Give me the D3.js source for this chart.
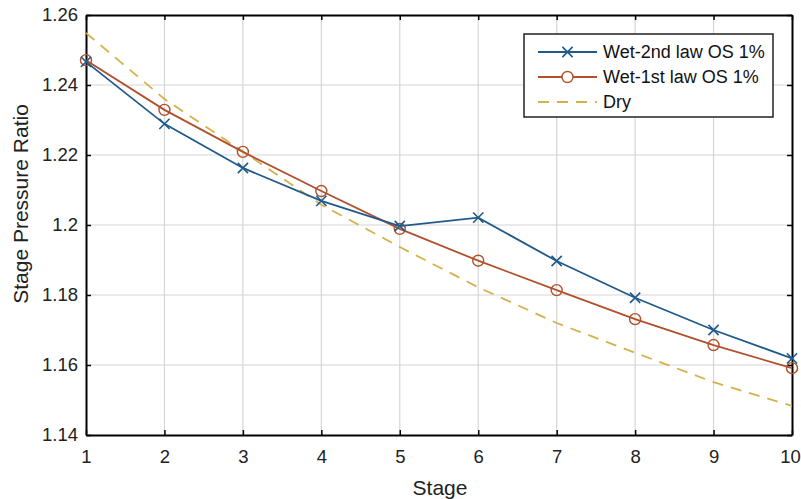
<!DOCTYPE html>
<html>
<head>
<meta charset="utf-8">
<script src="https://cdn.jsdelivr.net/npm/d3@7"></script>
<style>
  body { margin: 0; background: #fff; }
  svg { font-family: "Liberation Sans", Arial, sans-serif; }
</style>
</head>
<body>
<svg id="chart" width="801" height="499"></svg>
<script>
const stages = [1, 2, 3, 4, 5, 6, 7, 8, 9, 10];
const wet2nd = [1.2466, 1.2289, 1.2163, 1.2069, 1.1997, 1.2021, 1.1897, 1.1792, 1.1700, 1.1619];
const wet1st = [1.2471, 1.2329, 1.2209, 1.2097, 1.1989, 1.1898, 1.1814, 1.1731, 1.1657, 1.1591];
const dry = [1.2549, 1.2360, 1.2210, 1.2058, 1.1937, 1.1822, 1.1720, 1.1635, 1.1551, 1.1483];
const yTicks = [1.14, 1.16, 1.18, 1.2, 1.22, 1.24, 1.26];
const legendLabels = ["Wet-2nd law OS 1%", "Wet-1st law OS 1%", "Dry"];

let margin = {top: 15, right: 9, bottom: 64, left: 86};
let width = 801 - margin.left - margin.right;
let height = 499 - margin.top - margin.bottom;

let svg = d3.select("#chart");
let chart = svg.append("g")
  .attr("transform", "translate(" + margin.left + "," + margin.top + ")");

let x = d3.scaleLinear().domain([1, 10]).range([0, width]);
let y = d3.scaleLinear().domain([1.14, 1.26]).range([height, 0]);

// grid
chart.append("g").selectAll("line").data(stages.slice(1, -1)).enter().append("line")
  .attr("x1", d => x(d)).attr("x2", d => x(d))
  .attr("y1", 0).attr("y2", height)
  .attr("stroke", "#d6d6d6").attr("stroke-width", 1.2);
chart.append("g").selectAll("line").data(yTicks.slice(1, -1)).enter().append("line")
  .attr("x1", 0).attr("x2", width)
  .attr("y1", d => y(d)).attr("y2", d => y(d))
  .attr("stroke", "#d6d6d6").attr("stroke-width", 1.2);

// axes
let yLabel = d => (Math.round(d * 100) / 100).toString();

let xAxis = d3.axisBottom(x).tickValues(stages).tickSizeInner(-5).tickSizeOuter(0).tickPadding(15);
let yAxis = d3.axisLeft(y).tickValues(yTicks).tickFormat(yLabel).tickSizeInner(-5).tickSizeOuter(0).tickPadding(8);
let xTop = d3.axisTop(x).tickValues(stages).tickSizeInner(-5).tickSizeOuter(0).tickFormat("");
let yRight = d3.axisRight(y).tickValues(yTicks).tickSizeInner(-5).tickSizeOuter(0).tickFormat("");

let gx = chart.append("g").attr("transform", "translate(0," + height + ")").call(xAxis);
let gy = chart.append("g").call(yAxis);
let gt = chart.append("g").call(xTop);
let gr = chart.append("g").attr("transform", "translate(" + width + ",0)").call(yRight);

[gx, gy, gt, gr].forEach(g => {
  g.select(".domain").attr("stroke", "#000").attr("stroke-width", 2);
  g.selectAll(".tick line").attr("stroke", "#000").attr("stroke-width", 1.5);
  g.selectAll("text").attr("font-size", 18.5).attr("fill", "#222")
    .attr("font-family", "Liberation Sans, Arial, sans-serif");
});
// keep the last label inside the window
gx.selectAll(".tick text").filter(d => d === 10).attr("dx", -2);

// series
let line = d3.line().x((d, i) => x(stages[i])).y(d => y(d));
let colors = ["#1f5a8a", "#b0502c", "#d4b24a"];

chart.append("path").datum(dry).attr("d", line)
  .attr("fill", "none").attr("stroke", colors[2]).attr("stroke-width", 1.8)
  .attr("stroke-dasharray", "11,8");

chart.append("path").datum(wet1st).attr("d", line)
  .attr("fill", "none").attr("stroke", colors[1]).attr("stroke-width", 1.8);
chart.append("g").selectAll("circle").data(wet1st).enter().append("circle")
  .attr("cx", (d, i) => x(stages[i])).attr("cy", d => y(d)).attr("r", 5.5)
  .attr("fill", "none").attr("stroke", colors[1]).attr("stroke-width", 1.4);

chart.append("path").datum(wet2nd).attr("d", line)
  .attr("fill", "none").attr("stroke", colors[0]).attr("stroke-width", 1.8);
let cross = d3.symbol().type(d3.symbolX).size(70);
chart.append("g").selectAll("path").data(wet2nd).enter().append("path")
  .attr("d", cross)
  .attr("transform", (d, i) => "translate(" + x(stages[i]) + "," + y(d) + ")")
  .attr("fill", "none").attr("stroke", colors[0]).attr("stroke-width", 1.6);

// legend
let legend = svg.append("g").attr("transform", "translate(524,34)");
legend.append("rect").attr("width", 249).attr("height", 83)
  .attr("fill", "#fff").attr("stroke", "#222").attr("stroke-width", 1.5);
legendLabels.forEach((label, i) => {
  let ly = 18 + i * 25;
  let item = legend.append("g").attr("transform", "translate(0," + ly + ")");
  item.append("line").attr("x1", 14).attr("x2", 73).attr("y1", 0).attr("y2", 0)
    .attr("stroke", colors[i]).attr("stroke-width", 1.8)
    .attr("stroke-dasharray", i === 2 ? "11,8" : null);
  if (i === 0) {
    item.append("path").attr("d", cross).attr("transform", "translate(43.5,0)")
      .attr("fill", "none").attr("stroke", colors[0]).attr("stroke-width", 1.6);
  } else if (i === 1) {
    item.append("circle").attr("cx", 43.5).attr("cy", 0).attr("r", 5.5)
      .attr("fill", "#fff").attr("stroke", colors[1]).attr("stroke-width", 1.4);
  }
  item.append("text").attr("x", 79).attr("y", 0).attr("dy", "0.35em")
    .attr("font-size", 18).attr("fill", "#111").text(label);
});

// axis labels
svg.append("text").attr("x", 440).attr("y", 495)
  .attr("text-anchor", "middle").attr("font-size", 21).attr("fill", "#222").text("Stage");
svg.append("text").attr("transform", "translate(28,204) rotate(-90)")
  .attr("text-anchor", "middle").attr("font-size", 21).attr("fill", "#222").text("Stage Pressure Ratio");
</script>
</body>
</html>
